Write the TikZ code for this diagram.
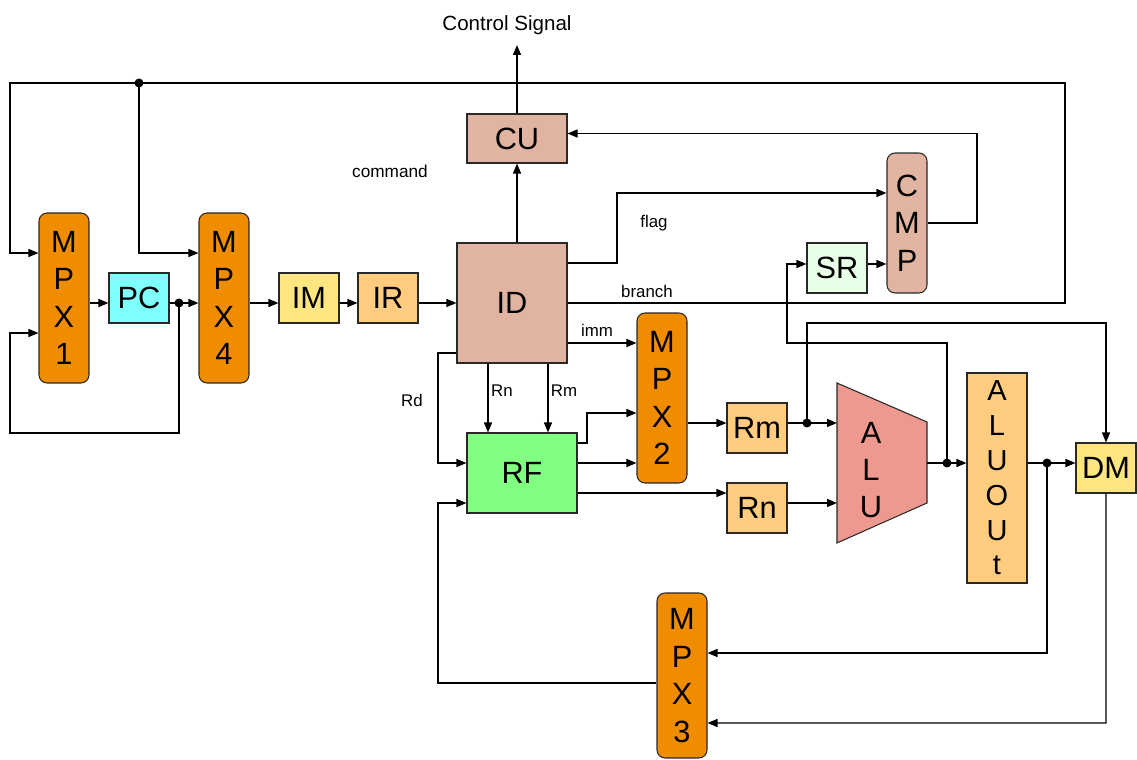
\documentclass[tikz,border=0pt]{standalone}
\usepackage{fontspec}
\setmainfont{Liberation Sans}
\usetikzlibrary{calc,arrows.meta}
\definecolor{mpxc}{RGB}{240,140,0}
\definecolor{pcc}{RGB}{128,255,255}
\definecolor{imc}{RGB}{255,230,128}
\definecolor{irc}{RGB}{255,204,128}
\definecolor{idc}{RGB}{224,180,160}
\definecolor{rfc}{RGB}{128,255,128}
\definecolor{src}{RGB}{230,255,230}
\definecolor{aluc}{RGB}{238,153,144}
\definecolor{edgec}{RGB}{40,40,40}
\tikzset{
  blk/.style={draw=edgec, line width=0.6pt, inner sep=0pt, align=center,
    font=\fontsize{17.5}{21.3}\selectfont},
  mux/.style={blk, fill=mpxc, rounded corners=0.16cm},
  wire/.style={line width=0.8pt, black},
  arr/.style={wire, -{Triangle[length=0.2cm,width=0.16cm]}},
  lbl/.style={font=\fontsize{9.6}{11}\selectfont, anchor=base, inner sep=0pt},
}
\begin{document}
\begin{tikzpicture}[x=0.02cm,y=-0.02cm]
\useasboundingbox (0,0) rectangle (1137,760);

% blocks
\node[mux, minimum width=1cm, minimum height=3.4cm] (mpx1) at (64,298) {M\\P\\X\\1};
\node[blk, fill=pcc, minimum width=1.2cm, minimum height=1cm] (pc) at (139,298) {PC};
\node[mux, minimum width=1cm, minimum height=3.4cm] (mpx4) at (224,298) {M\\P\\X\\4};
\node[blk, fill=imc, minimum width=1.2cm, minimum height=1cm] (im) at (309,298) {IM};
\node[blk, fill=irc, minimum width=1.2cm, minimum height=1cm] (ir) at (388,298) {IR};
\node[blk, fill=idc, minimum width=2.2cm, minimum height=2.4cm] (id) at (512,303) {ID};
\node[blk, fill=idc, minimum width=2cm, minimum height=0.98cm] (cu) at (517,138.5) {CU};
\node[blk, fill=idc, rounded corners=0.16cm, minimum width=0.8cm, minimum height=2.8cm] (cmp) at (907,223) {C\\M\\P};
\node[blk, fill=src, minimum width=1.2cm, minimum height=1cm] (sr) at (837,268) {SR};
\node[mux, minimum width=1cm, minimum height=3.4cm] (mpx2) at (662,398) {M\\P\\X\\2};
\node[blk, fill=rfc, minimum width=2.2cm, minimum height=1.6cm] (rf) at (522,473) {RF};
\node[blk, fill=irc, minimum width=1.2cm, minimum height=1cm] (rm) at (757,428) {Rm};
\node[blk, fill=irc, minimum width=1.2cm, minimum height=1cm] (rn) at (757,508) {Rn};
\draw[draw=edgec, line width=0.6pt, fill=aluc] (837,383) -- (927,422) -- (927,503) -- (837,543) -- cycle;
\node[align=center, inner sep=0pt, font=\fontsize{17.5}{21.3}\selectfont] (alu) at (871,470) {A\\L\\U};
\coordinate (aluA) at (837,423);
\coordinate (aluB) at (837,503);
\coordinate (aluO) at (927,463);
\node[blk, fill=irc, minimum width=1.2cm, minimum height=4.2cm, font=\fontsize{16.5}{19.8}\selectfont] (aluout) at (997,478) {A\\L\\U\\O\\U\\t};
\node[blk, fill=imc, minimum width=1.2cm, minimum height=1cm] (dm) at (1106,468) {DM};
\node[mux, minimum width=1cm, minimum height=3.3cm] (mpx3) at (682,675.5) {M\\P\\X\\3};

% labels
\node[font=\fontsize{11.7}{13}\selectfont, anchor=base, inner sep=0pt] (cs) at (507,31) {Control Signal};
\node[lbl, font=\fontsize{9.8}{11}\selectfont] (cmd) at (390,178) {command};
\node[lbl] (flag) at (654,228) {flag};
\node[lbl] (branch) at (647,298) {branch};
\node[lbl] (imm) at (597,337) {imm};
\node[lbl] (lrn) at (502,397) {Rn};
\node[lbl] (lrm) at (564,397) {Rm};
\node[lbl] (lrd) at (412,407) {Rd};

% junctions
\coordinate (j1) at (139,83);
\coordinate (j2) at (179,303);
\coordinate (j3) at (807,423);
\coordinate (j4) at (947,463);
\coordinate (j5) at (1047,463);
\coordinate (csin) at (517,45);

% connectors
\draw[arr] (id.east) -- (1065,303) |- (10,83) |- ($(mpx1.west)+(0,-45)$);
\draw[arr] (j1) |- ($(mpx4.west)+(0,-45)$);
\draw[arr] ($(mpx1.east)+(0,5)$) -- ($(pc.west)+(0,5)$);
\draw[arr] ($(pc.east)+(0,5)$) -- ($(mpx4.west)+(0,5)$);
\draw[arr] (j2) -- (179,433) -- (10,433) |- ($(mpx1.west)+(0,35)$);
\draw[arr] ($(mpx4.east)+(0,5)$) -- ($(im.west)+(0,5)$);
\draw[arr] ($(im.east)+(0,5)$) -- ($(ir.west)+(0,5)$);
\draw[arr] ($(ir.east)+(0,5)$) -- (id.west);
\draw[arr] (cu.south |- id.north) -- (cu.south);
\draw[arr] (cu.north) -- (csin);
\draw[arr] (cmp.east) -- (977,223) |- ($(cu.east)+(0,-5)$);
\draw[arr] ($(id.east)+(0,-40)$) -- (617,263) |- ($(cmp.west)+(0,-30)$);
\draw[arr] ($(sr.east)+(0,-4)$) -- ($(cmp.west)+(0,41)$);
\draw[arr] (j4) -- (947,343) -- (787,343) |- ($(sr.west)+(0,-4)$);
\draw[arr] (j3) -- (807,323) -| (dm.north);
\draw[arr] ($(id.east)+(0,40)$) -- ($(mpx2.west)+(0,-55)$);
\draw[arr] ($(id.south)+(-24,0)$) coordinate (rnx) -- (rnx |- rf.north);
\draw[arr] ($(id.south)+(36,0)$) coordinate (rmx) -- (rmx |- rf.north);
\draw[arr] ($(id.west)+(0,50)$) -- (438,353) |- ($(rf.west)+(0,-10)$);
\draw[arr] ($(rf.east)+(0,-30)$) -- (587,443) |- ($(mpx2.west)+(0,15)$);
\draw[arr] ($(rf.east)+(0,-10)$) -- ($(mpx2.west)+(0,65)$);
\draw[arr] ($(rf.east)+(0,20)$) -- ($(rn.west)+(0,-15)$);
\draw[arr] ($(mpx2.east)+(0,25)$) -- ($(rm.west)+(0,-5)$);
\draw[arr] ($(rm.east)+(0,-5)$) -- (aluA);
\draw[arr] ($(rn.east)+(0,-5)$) -- (aluB);
\draw[arr] (aluO) -- (aluout.west |- aluO);
\draw[arr] ($(aluout.east)+(0,-15)$) -- ($(dm.west)+(0,-5)$);
\draw[arr] (j5) -- (1047,653) -- ($(mpx3.east)+(0,-22.5)$);
\draw[arr] (dm.south) -- (1106,723) -- ($(mpx3.east)+(0,47.5)$);
\draw[arr] ($(mpx3.west)+(0,7.5)$) -- (438,683) |- ($(rf.west)+(0,30)$);

\foreach \j in {j1,j2,j3,j4,j5} \fill (\j) circle (0.09cm);
\end{tikzpicture}
\end{document}
